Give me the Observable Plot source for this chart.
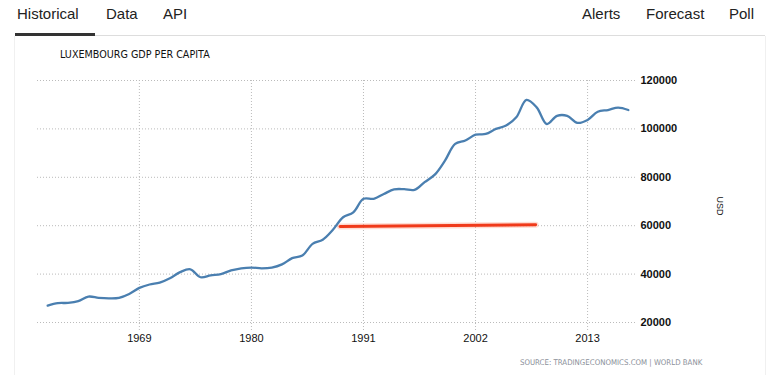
<!DOCTYPE html>
<html>
<head>
<meta charset="utf-8">
<script src="https://cdn.jsdelivr.net/npm/d3@7"></script>
<script src="https://cdn.jsdelivr.net/npm/@observablehq/plot@0.6"></script>
<style>
  html, body { margin: 0; padding: 0; background: #fff; }
  #wrap { position: relative; width: 769px; height: 375px; overflow: hidden; font-family: "Liberation Sans", Arial, sans-serif; }
  .nav { position: absolute; top: 5px; font-size: 15px; color: #222; }
  #navline { position: absolute; left: 15px; right: 4px; top: 35px; height: 1px; background: #ddd; }
  #navactive { position: absolute; left: 15px; width: 80px; top: 33px; height: 3px; background: #333; }
  #frame { position: absolute; left: 14px; right: 3px; top: 36px; bottom: 0; border-left: 1px solid #f0f0f0; border-right: 1px solid #f0f0f0; }
  #title { position: absolute; left: 60px; top: 49px; font-family: "DejaVu Sans", Verdana, sans-serif; font-size: 9.6px; color: #111; }
  #usd { position: absolute; left: 710px; top: 201px; font-size: 9px; color: #111; transform: rotate(90deg); transform-origin: center; }
  #source { position: absolute; left: 520px; top: 358px; font-family: "DejaVu Sans Condensed", "DejaVu Sans", sans-serif; font-size: 7.8px; color: #8a8f99; }
  #chart { position: absolute; left: 0; top: 44px; }
</style>
</head>
<body>
<div id="wrap">
  <div id="frame"></div>
  <div class="nav" style="left:17px">Historical</div>
  <div class="nav" style="left:106px">Data</div>
  <div class="nav" style="left:163px">API</div>
  <div class="nav" style="left:582px">Alerts</div>
  <div class="nav" style="left:646px">Forecast</div>
  <div class="nav" style="left:729px">Poll</div>
  <div id="navline"></div>
  <div id="navactive"></div>
  <div id="title">LUXEMBOURG GDP PER CAPITA</div>
  <div id="chart"></div>
  <div id="usd">USD</div>
  <div id="source">SOURCE: TRADINGECONOMICS.COM | WORLD BANK</div>
</div>
<script>
const years = [1960,1961,1962,1963,1964,1965,1966,1967,1968,1969,1970,1971,1972,1973,1974,1975,1976,1977,1978,1979,1980,1981,1982,1983,1984,1985,1986,1987,1988,1989,1990,1991,1992,1993,1994,1995,1996,1997,1998,1999,2000,2001,2002,2003,2004,2005,2006,2007,2008,2009,2010,2011,2012,2013,2014,2015,2016,2017];
const gdp = [27000,28000,28100,28800,30700,30200,30000,30200,31800,34300,35700,36500,38300,40800,42000,38700,39500,40000,41500,42400,42700,42400,42700,44000,46600,47700,52500,54200,58300,63500,65500,71100,71100,73100,75000,75100,74800,78000,81100,86900,93800,95200,97600,97900,100000,101400,104800,112000,108900,102000,105400,105400,102500,103700,107100,107800,108800,107800];
const trendYears = [1988.7, 2007.9];
const trendValues = [59700, 60400];
const xTicks = [1969, 1980, 1991, 2002, 2013];
const yTicks = [20000, 40000, 60000, 80000, 100000, 120000];

const series = years.map((y, i) => ({year: y, value: gdp[i]}));
const trend = trendYears.map((y, i) => ({year: y, value: trendValues[i]}));

const chart = Plot.plot({
  width: 769,
  height: 331,
  marginTop: 36,
  marginBottom: 53,
  marginLeft: 37,
  marginRight: 132,
  style: {fontFamily: "Liberation Sans, Arial, sans-serif", fontSize: "11px", background: "transparent", overflow: "visible"},
  x: {domain: [1959, 2017.9], label: null},
  y: {domain: [20000, 120000], label: null},
  marks: [
    Plot.gridY(yTicks, {stroke: "#bbb", strokeOpacity: 1, strokeDasharray: "1,2"}),
    Plot.gridX(xTicks, {stroke: "#bbb", strokeOpacity: 1, strokeDasharray: "1,2", y2: 16000}),
    Plot.axisX(xTicks, {tickSize: 0, tickPadding: 12, tickFormat: d => String(d), fill: "#111", fontSize: 11}),
    Plot.axisY(yTicks, {anchor: "right", tickSize: 0, tickPadding: 3, tickFormat: d => String(d), fill: "#111", fontSize: 11, fontWeight: "bold", textAnchor: "start"}),
    Plot.line(trend, {x: "year", y: "value", stroke: "#ff9a80", strokeWidth: 6, strokeOpacity: 0.35}),
    Plot.line(trend, {x: "year", y: "value", stroke: "#f03a1a", strokeWidth: 3}),
    Plot.line(series, {x: "year", y: "value", stroke: "#4a7fb0", strokeWidth: 2.3, curve: "catmull-rom"})
  ]
});
document.getElementById("chart").appendChild(chart);
</script>
</body>
</html>
